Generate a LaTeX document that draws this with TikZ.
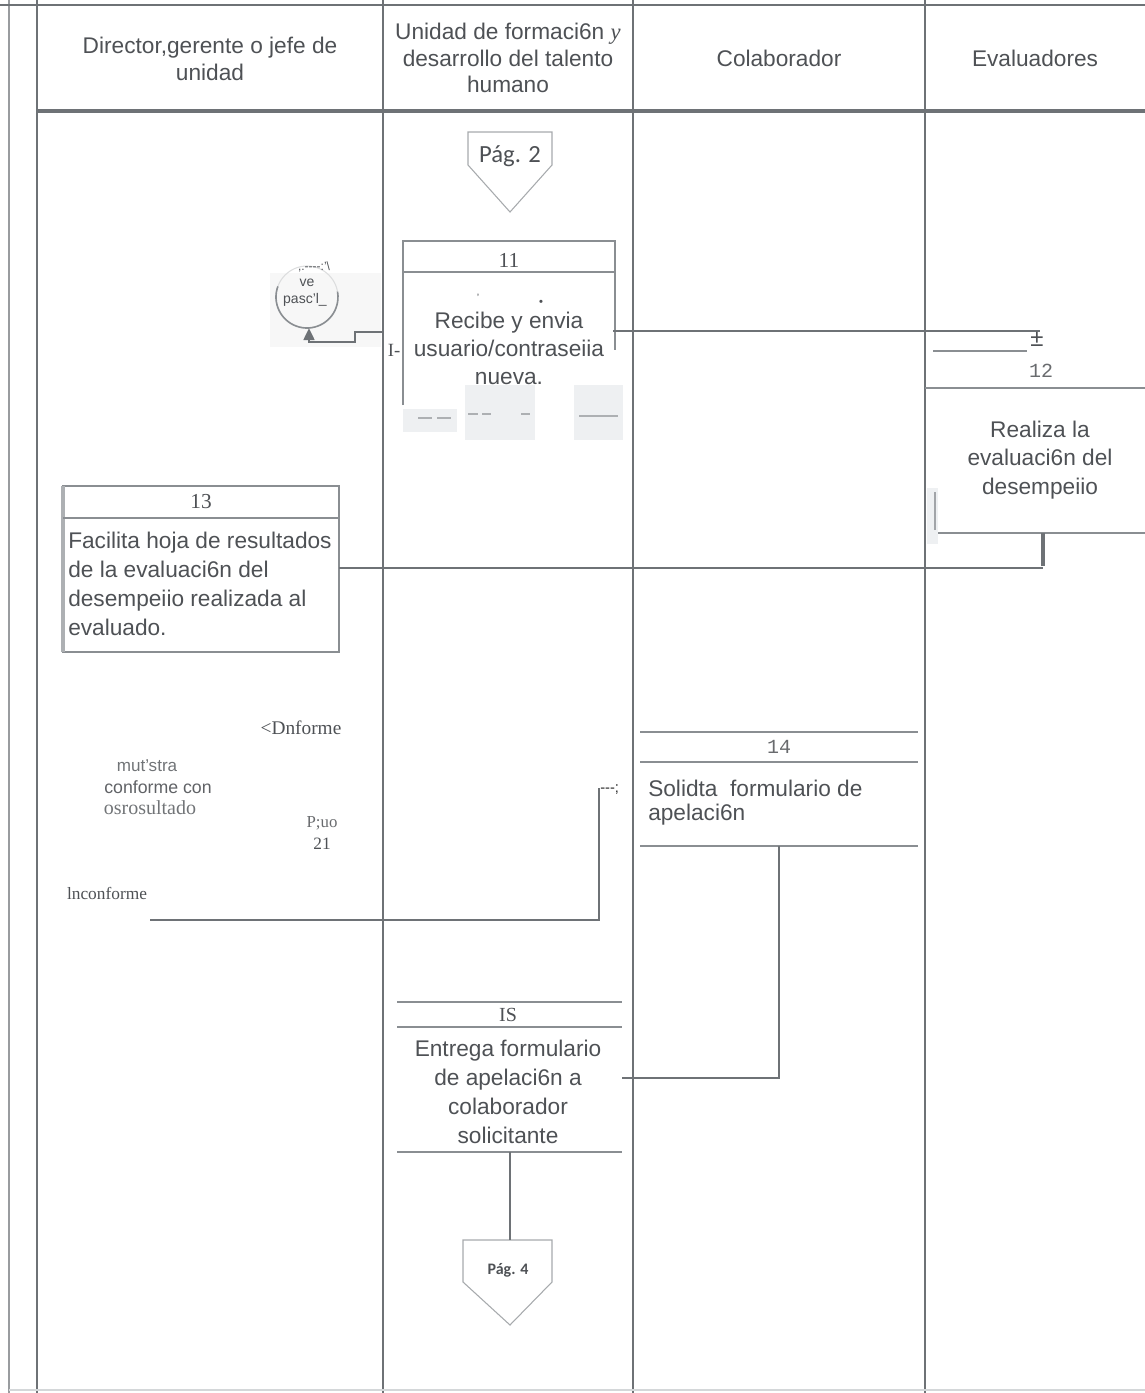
\documentclass[tikz,border=0pt]{standalone}
\usepackage{fontspec}
\setmainfont{Liberation Sans}
\newfontfamily\seriffam{Liberation Serif}
\newfontfamily\monofam{Liberation Mono}
\newfontfamily\calfam{Carlito}
\usetikzlibrary{arrows.meta}
\definecolor{lanegray}{HTML}{6E7276}
\definecolor{boxgray}{HTML}{8A8E92}
\definecolor{txtgray}{HTML}{4E5155}
\definecolor{softgray}{HTML}{EEF0F2}
\definecolor{pagegray}{HTML}{A7AAAD}

\begin{document}
\begin{tikzpicture}[x=0.75pt,y=-0.75pt,
  lane/.style={draw=lanegray,line width=1.6pt},
  edge/.style={draw=lanegray,line width=1.5pt},
  boxline/.style={draw=boxgray,line width=1.6pt},
  hdr/.style={align=center,font=\fontsize{17}{19.8}\selectfont,text=txtgray,inner sep=0pt},
  body/.style={align=center,font=\fontsize{17}{21}\selectfont,text=txtgray,inner sep=0pt},
  bodyl/.style={align=left,font=\fontsize{17}{21.8}\selectfont,text=txtgray,inner sep=0pt},
  numser/.style={font=\seriffam\fontsize{16}{16}\selectfont,text=txtgray,inner sep=0pt},
  nummono/.style={font=\monofam\fontsize{15}{16}\selectfont,text=txtgray!85,inner sep=0pt},
  scan/.style={font=\seriffam\fontsize{13}{15}\selectfont,text=txtgray,inner sep=0pt},
  pagebox/.style={draw=pagegray,line width=0.8pt,fill=white}]

\useasboundingbox (0,0) rectangle (1145,1393);

% ---- lanes and header ----
\draw[draw=lanegray!70,line width=1pt] (9,0) -- (9,1393);
\draw[lane] (0,5) -- (1145,5);
\foreach \lx in {37,383,633,925} \draw[lane] (\lx,0) -- (\lx,1393);
\draw[draw=lanegray,line width=2.4pt] (37,111) -- (1145,111);
\draw[draw=softgray!80!lanegray,line width=1pt] (9,1390) -- (1145,1390);

\node[hdr] (h1) at (210,59) {Director,gerente o jefe de\\unidad};
\node[hdr] (h2) at (508,58) {Unidad de formaci6n {\seriffam\itshape y}\\desarrollo del talento\\humano};
\node[hdr] (h3) at (779,58) {Colaborador};
\node[hdr] (h4) at (1035,58) {Evaluadores};

% ---- page connector (from) ----
\draw[pagebox] (468,132) -- (552,132) -- (552,165) -- (510,212) -- (468,165) -- cycle;
\node[font=\calfam\fontsize{18.5}{20}\selectfont,text=txtgray,inner sep=0pt] (pg2) at (510,156) {Pág. 2};
\coordinate (pg2tip) at (510,212);

% ---- step 11 ----
\draw[boxline] (403,405) -- (403,241) -- (615,241) -- (615,350);
\draw[boxline] (403,272) -- (615,272);
\node[numser] (n11) at (509,260) {11};
\node[body] (s11) at (509,348) {Recibe y envia\\usuario/contraseiia\\nueva.};
\node[font=\seriffam\fontsize{14}{14}\selectfont,text=txtgray,inner sep=0pt] (mark11) at (394,350) {I-};
\node[font=\tiny,text=txtgray,inner sep=0pt] (dot11) at (541,302) {$\bullet$};
\node[font=\fontsize{8}{8}\selectfont,text=txtgray,inner sep=0pt] (tick11) at (478,298) {'};
\fill[softgray] (403,409) rectangle (457,432);
\fill[softgray] (465,385) rectangle (535,440);
\fill[softgray] (574,385) rectangle (623,440);
\draw[boxgray!70,line width=0.9pt] (418,418) -- (432,418) (437,418) -- (451,418)
  (468,414) -- (478,414) (482,414) -- (491,414) (521,414) -- (530,414)
  (579,416) -- (618,416);
\coordinate (s11w) at (383,332);
\coordinate (s11e) at (613,331);

% ---- "ve paso" connector circle ----
\fill[black!3] (270,273) rectangle (381,347);
\draw[draw=boxgray!30,line width=0.8pt] (307,297) circle (31);
\draw[draw=boxgray,line width=1.2pt] (307,297) ++(200:31) arc[start angle=200,end angle=-10,radius=31];
\node[font=\fontsize{10.5}{11}\selectfont,text=txtgray,inner sep=0pt] (ve1) at (307,283) {ve};
\node[font=\fontsize{10.5}{11}\selectfont,text=txtgray,inner sep=0pt] (ve2) at (305,300) {pasc'l\_};
\node[font=\fontsize{9}{9}\selectfont,text=txtgray,inner sep=0pt] (ve3) at (314,267) {,.-{}-{}-{}-:'\textbackslash};
\coordinate (circbot) at (309,328);
\draw[edge,line width=1.9pt,-{Triangle[length=9pt,width=8pt]}] (s11w) -- (355,332) -- (355,342) -- (309,342) -- (circbot);

% ---- step 12 ----
\draw[edge] (s11e) -- (1040,331);
\node[font=\fontsize{18}{18}\selectfont,text=txtgray,inner sep=0pt] (pm) at (1037,339) {±};
\draw[boxline] (933,351) -- (1027,351);
\node[nummono] (n12) at (1041,371) {12};
\draw[boxline] (925,388) -- (1145,388);
\node[body,font=\fontsize{17}{21.4}\selectfont] (s12) at (1040,460) {Realiza la\\evaluaci6n del\\desempeiio};
\draw[boxline] (937,533) -- (1145,533);
\fill[softgray] (927,488) rectangle (938,544);
\draw[boxgray!80,line width=1.3pt] (935,492) -- (935,530);
\coordinate (s12b) at (1043,533);
\draw[draw=lanegray,line width=2.4pt] (s12b) -- (1043,566);

% ---- step 13 ----
\draw[boxline] (63,486) rectangle (339,652);
\draw[draw=boxgray!70,line width=2.6pt] (63,486) -- (63,652);
\draw[boxline] (63,518) -- (339,518);
\node[numser] (n13) at (201,502) {13};
\node[bodyl,anchor=north west] (s13) at (68,532) {Facilita hoja de resultados\\de la evaluaci6n del\\desempeiio realizada al\\evaluado.};
\draw[edge] (339,568) -- (1043,568);

% ---- decision area (scanned text) ----
\node[scan,font=\seriffam\fontsize{14.5}{15}\selectfont] (d1) at (301,728) {<Dnforme};
\node[font=\fontsize{12.8}{15}\selectfont,text=txtgray!80,inner sep=0pt] (d2) at (147,766) {mut'stra};
\node[font=\fontsize{13.3}{15}\selectfont,text=txtgray!90,inner sep=0pt] (d3) at (158,787) {conforme con};
\node[scan,text=txtgray!80,font=\seriffam\fontsize{15}{15}\selectfont] (d4) at (150,808) {osrosultado};
\node[scan,text=txtgray!85,font=\seriffam\fontsize{12.6}{15}\selectfont] (d5) at (322,823) {P;uo};
\node[scan] (d6) at (322,844) {21};
\node[scan] (d7) at (107,893) {lnconforme};
\coordinate (inc) at (150,920);
\coordinate (s14in) at (599,788);
\draw[edge,line width=1.3pt] (inc) -- (599,920) -- (s14in);
\node[font=\fontsize{11}{12}\selectfont,text=black!85,inner sep=0pt,anchor=west] (d8) at (600,790) {-{}-{}-;};

% ---- step 14 ----
\draw[boxline] (640,732) -- (918,732);
\draw[boxline] (640,762) -- (918,762);
\draw[boxline] (640,846) -- (918,846);
\node[nummono] (n14) at (779,747) {14};
\node[bodyl,font=\fontsize{17}{17.5}\selectfont,anchor=north west] (s14) at (648,780) {Solidta\ \ formulario de\\apelaci6n};
\coordinate (s14b) at (779,846);

% ---- step 15 ----
\draw[boxline] (397,1002) -- (622,1002);
\draw[boxline] (397,1027) -- (622,1027);
\draw[boxline] (397,1152) -- (622,1152);
\node[numser,font=\seriffam\fontsize{15}{15}\selectfont] (n15) at (508,1015) {IS};
\node[body,font=\fontsize{17}{21.8}\selectfont] (s15) at (508,1092) {Entrega formulario\\de apelaci6n a\\colaborador\\solicitante};
\coordinate (s15e) at (622,1078);
\coordinate (s15b) at (510,1152);
\draw[edge] (s14b) -- (779,1078) -- (s15e);

% ---- page connector (to) ----
\draw[pagebox] (463,1240) -- (552,1240) -- (552,1282) -- (510,1325) -- (463,1282) -- cycle;
\node[font=\calfam\bfseries\fontsize{12}{13}\selectfont,text=txtgray,inner sep=0pt] (pg4) at (508,1270) {Pág. 4};
\coordinate (pg4top) at (510,1240);
\draw[edge] (s15b) -- (pg4top);

\end{tikzpicture}
\end{document}
